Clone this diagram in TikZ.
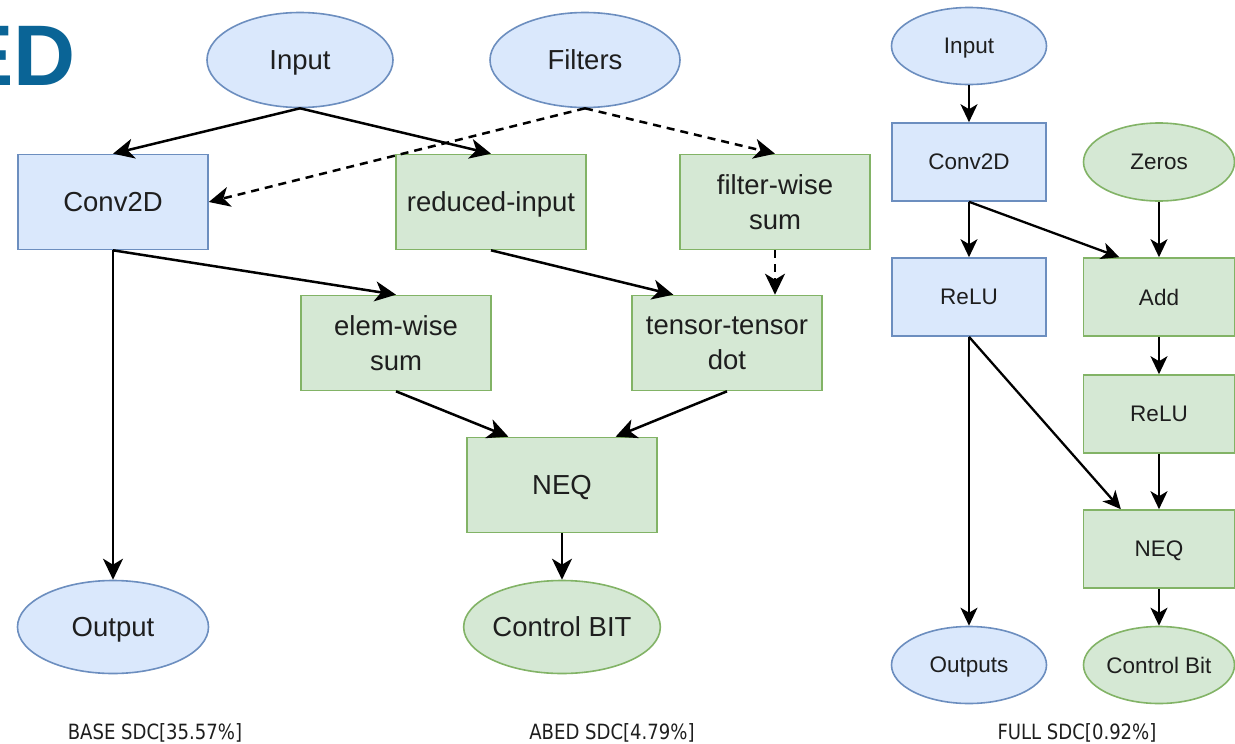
\documentclass[tikz,border=0pt]{standalone}
\usepackage{fontspec}
\setmainfont{Liberation Sans}
\newfontfamily\capfont[FakeStretch=0.86]{DejaVu Sans}
\usetikzlibrary{shapes.geometric,arrows.meta,calc}

\definecolor{bluefill}{HTML}{DAE8FC}
\definecolor{blueline}{HTML}{6C8EBF}
\definecolor{greenfill}{HTML}{D5E8D4}
\definecolor{greenline}{HTML}{82B366}
\definecolor{inktext}{HTML}{1E1E1E}
\definecolor{titleblue}{HTML}{0A6496}

\tikzset{
  big/.style={font=\fontsize{27.5}{35}\selectfont, text=inktext, align=center, inner sep=0pt, text depth=0pt},
  small/.style={font=\fontsize{22.5}{27}\selectfont, text=inktext, align=center, inner sep=0pt, text depth=0pt},
  bluebox/.style={rectangle, draw=blueline, fill=bluefill, line width=1.6pt},
  greenbox/.style={rectangle, draw=greenline, fill=greenfill, line width=1.6pt},
  blueoval/.style={ellipse, draw=blueline, fill=bluefill, line width=1.6pt},
  greenoval/.style={ellipse, draw=greenline, fill=greenfill, line width=1.6pt},
  lsize/.style={minimum width=190pt, minimum height=95pt},
  rsize/.style={minimum width=154pt, minimum height=78pt},
  flow/.style={line width=2.5pt, -{Stealth[length=21pt,width=20pt,inset=6pt]}},
  rflow/.style={line width=2.3pt, -{Stealth[length=18pt,width=17pt,inset=5pt]}},
  dflow/.style={flow, dash pattern=on 8pt off 6pt},
  caption/.style={font=\capfont\fontsize{21}{24}\selectfont, text=inktext, inner sep=0pt}
}

\begin{document}
\begin{tikzpicture}[x=1pt,y=-1pt]
\useasboundingbox (0,0) rectangle (1235,744);
\fill[white] (0,0) rectangle (1235,744);

% heading running off the left edge
\begin{scope}
\clip (0,0) rectangle (1235,744);
\node[anchor=base east, inner sep=0pt, text=titleblue,
      font=\fontsize{86}{90}\selectfont\bfseries] (title) at (76,85) {ED};
\end{scope}

% ---------- BASE ----------
\node[blueoval, big, minimum width=186pt, minimum height=95pt] (in1) at (300,60) {Input};
\node[bluebox, big, lsize] (conv1) at (113,202) {Conv2D};
\node[blueoval, big, minimum width=191pt, minimum height=93pt] (out1) at (113,627) {Output};

% ---------- ABED ----------
\node[blueoval, big, minimum width=190pt, minimum height=95pt] (filt) at (585,60) {Filters};
\node[greenbox, big, lsize] (red) at (491,202) {reduced-input};
\node[greenbox, big, lsize] (fws) at (775,202) {filter-wise\\sum};
\node[greenbox, big, lsize] (ews) at (396,343) {elem-wise\\sum};
\node[greenbox, big, lsize] (ttd) at (727,343) {tensor-tensor\\dot};
\node[greenbox, big, lsize] (neq1) at (562,485) {NEQ};
\node[greenoval, big, minimum width=190pt, minimum height=93pt] (cb1) at (562,627) {Control BIT};

\draw[flow] (in1.south) -- (conv1.north);
\draw[flow] (in1.south) -- (red.north);
\draw[dflow] (filt.south) -- (conv1.east);
\draw[dflow] (filt.south) -- (fws.north);
\draw[flow] (conv1.south) -- (out1.north);
\draw[flow] (conv1.south) -- (ews.north);
\draw[flow] (red.south) -- ($(ttd.north west)!0.22!(ttd.north east)$);
\draw[dflow] (fws.south) -- (fws.south |- ttd.north);
\draw[flow] (ews.south) -- ($(neq1.north west)!0.22!(neq1.north east)$);
\draw[flow] (ttd.south) -- ($(neq1.north west)!0.78!(neq1.north east)$);
\draw[flow] (neq1.south) -- (cb1.north);

% ---------- FULL ----------
\node[blueoval, small, minimum width=155pt, minimum height=77pt] (in2) at (969,46) {Input};
\node[bluebox, small, rsize] (conv2) at (969,162) {Conv2D};
\node[greenoval, small, minimum width=151pt, minimum height=78pt] (zer) at (1159,162) {Zeros};
\node[bluebox, small, rsize] (relu1) at (969,297) {ReLU};
\node[greenbox, small, minimum width=151pt, minimum height=78pt] (add) at (1159,297) {Add};
\node[greenbox, small, minimum width=151pt, minimum height=78pt] (relu2) at (1159,414) {ReLU};
\node[greenbox, small, minimum width=151pt, minimum height=78pt] (neq2) at (1159,549) {NEQ};
\node[blueoval, small, minimum width=155pt, minimum height=77pt] (out2) at (969,665) {Outputs};
\node[greenoval, small, minimum width=151pt, minimum height=77pt] (cb2) at (1159,665) {Control Bit};

\draw[rflow] (in2.south) -- (conv2.north);
\draw[rflow] (conv2.south) -- (relu1.north);
\draw[rflow] (conv2.south) -- ($(add.north west)!0.24!(add.north east)$);
\draw[rflow] (zer.south) -- (add.north);
\draw[rflow] (add.south) -- (relu2.north);
\draw[rflow] (relu1.south) -- (out2.north);
\draw[rflow] (relu1.south) -- ($(neq2.north west)!0.25!(neq2.north east)$);
\draw[rflow] (relu2.south) -- (neq2.north);
\draw[rflow] (neq2.south) -- (cb2.north);

% ---------- captions ----------
\node[caption] (cap1) at (155,733) {BASE SDC[35.57\%]};
\node[caption] (cap2) at (612,733) {ABED SDC[4.79\%]};
\node[caption] (cap3) at (1077,733) {FULL SDC[0.92\%]};
\end{tikzpicture}
\end{document}
